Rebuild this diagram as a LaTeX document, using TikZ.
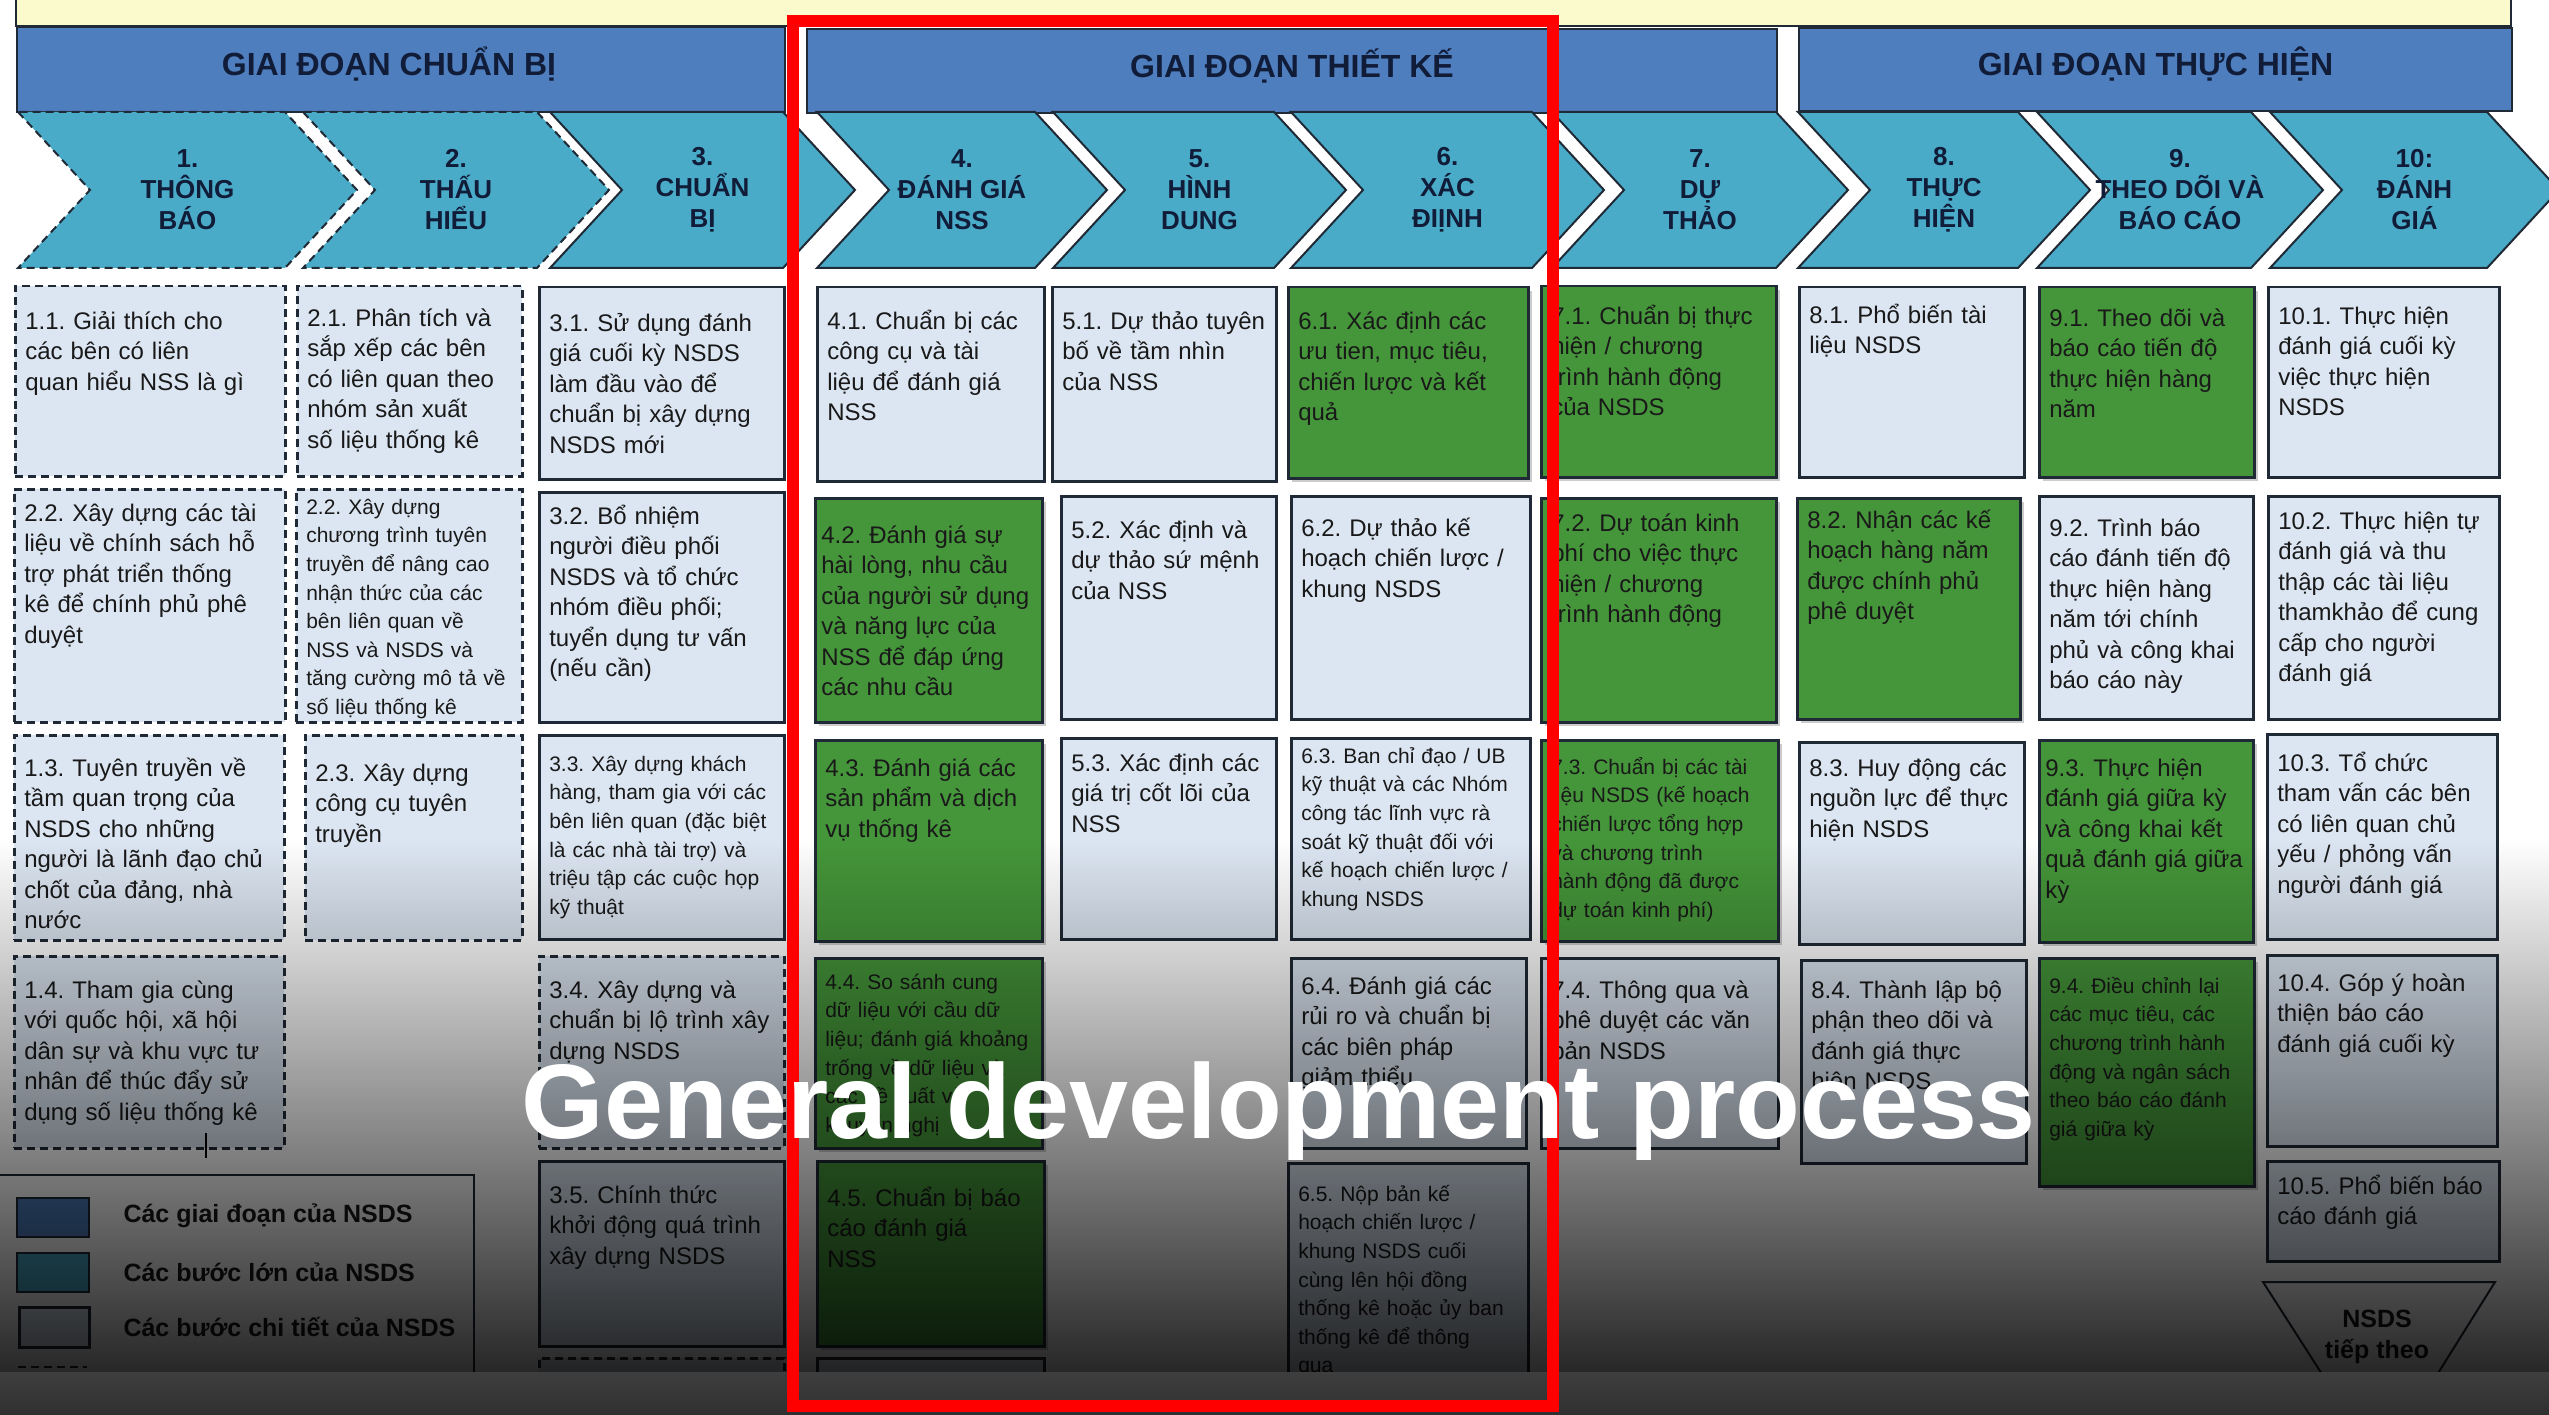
\documentclass[tikz,border=0pt]{standalone}
\usepackage{fontspec}
\setmainfont{Liberation Sans}
\usetikzlibrary{shadows,fadings}
\frenchspacing

\definecolor{sunny}{HTML}{FBFACD}
\definecolor{phaseblue}{HTML}{4E7EBD}
\definecolor{stepteal}{HTML}{4AABC9}
\definecolor{liteblue}{HTML}{DCE6F2}
\definecolor{leafgreen}{HTML}{45963A}
\definecolor{inkline}{HTML}{202A36}
\definecolor{navyink}{HTML}{101C38}
\definecolor{bandgray}{HTML}{3E3E3E}

\newcommand{\cellfont}{\fontsize{24}{30.5}\selectfont}
\newcommand{\cellsmall}{\fontsize{21}{28.6}\selectfont}
\newcommand{\chevfont}{\fontsize{26}{31}\selectfont\bfseries}
\newcommand{\phasefont}{\fontsize{32}{36}\selectfont\bfseries}
\newcommand{\keyfont}{\fontsize{25}{31}\selectfont\bfseries}
\newcommand{\capfont}{\fontsize{106}{110}\selectfont\bfseries}
\newcommand{\cellpad}{10}

\tikzfading[name=fadedark, top color=transparent!100, bottom color=transparent!15]

\tikzset{
  cell/.code n args={3}{%
    \pgfmathsetmacro\cellw{#1-2*\cellpad}%
    \pgfmathsetmacro\cellh{#3-10}%
    \pgfmathsetmacro\celld{#2-#3-10}%
    \edef\cellkeys{\noexpand\pgfkeysalso{anchor=north west, inner xsep=\cellpad pt, inner ysep=10pt,
      align=left, text width=\cellw pt, text height=\cellh pt, text depth=\celld pt}}%
    \cellkeys},
  tight/.code={\def\cellpad{6}},
  broken/.style={dash pattern=on 8pt off 5pt},
  whole/.style={solid},
  lite/.style={fill=liteblue, draw=inkline, line width=2.5pt, font=\cellfont, text=black!90},
  dlite/.style={lite, broken},
  leaf/.style={fill=leafgreen, draw=inkline, line width=2.5pt, font=\cellfont, text=black!90,
    drop shadow={opacity=.4, shadow xshift=4pt, shadow yshift=-4pt}},
  dense/.style={font=\cellsmall},
  phasebar/.style={fill=phaseblue, draw=inkline, line width=2pt, text=navyink, font=\phasefont,
    anchor=north west, text depth=16pt},
  chev/.style={fill=stepteal, draw=inkline, line width=2pt},
  chevtxt/.style={text=navyink, font=\chevfont, align=center},
  keytxt/.style={text=black!90, font=\keyfont, anchor=west},
}

\begin{document}
\begin{tikzpicture}[x=1pt,y=-1pt]
    \useasboundingbox (0,0) rectangle (2549,1415);
    \fill[white] (0,0) rectangle (2549,1415);

    % phases
    \draw[fill=sunny, draw=inkline, line width=2pt] (16,-10) rectangle (2511,26);
    \node[phasebar, minimum width=768, minimum height=85] (ph1) at (16,26) {GIAI ĐOẠN CHUẨN BỊ\hspace*{24pt}};
    \node[phasebar, minimum width=970, minimum height=84] (ph2) at (806,28) {GIAI ĐOẠN THIẾT KẾ};
    \node[phasebar, minimum width=713, minimum height=83] (ph3) at (1798,27) {GIAI ĐOẠN THỰC HIỆN};

    % big steps
    \foreach \n/\a/\b/\ln/\lbl in {1/18/285/broken/1.\\THÔNG\\BÁO, 2/303/537/broken/2.\\THẤU\\HIỂU,
        3/550/783/whole/3.\\CHUẨN\\BỊ, 4/817/1035/whole/4.\\ĐÁNH GIÁ\\NSS, 5/1053/1274/whole/5.\\HÌNH\\DUNG,
        6/1291/1532/whole/6.\\XÁC\\ĐIỊNH, 7/1552/1776/whole/7.\\DỰ\\THẢO, 8/1798/2018/whole/8.\\THỰC\\HIỆN,
        9/2037/2251/whole/9.\\THEO DÕI VÀ\\BÁO CÁO, 10/2270/2487/whole/10:\\ĐÁNH\\GIÁ} {
        \draw[chev, \ln] (\a,112) -- ++(72,78) -- ++(-72,78) -- (\b,268) -- ++(72,-78) -- ++(-72,-78) -- cycle;
        \node[chevtxt] (s\n) at ({(\a+\b)/2+36},190) {\lbl};
    }

    % detailed steps, row 1
    \node[dlite, cell={270}{190}{43}] (c11) at (14,285) {1.1. Giải thích cho\\các bên có liên\\quan hiểu NSS là gì};
    \node[dlite, cell={225}{190}{40}] (c21) at (296,285) {2.1. Phân tích và\\sắp xếp các bên\\có liên quan theo\\nhóm sản xuất\\số liệu thống kê};
    \node[lite, cell={245}{192}{44}] (c31) at (538,286) {3.1. Sử dụng đánh\\giá cuối kỳ NSDS\\làm đầu vào để\\chuẩn bị xây dựng\\NSDS mới};
    \node[lite, cell={227}{194}{42}] (c41) at (816,286) {4.1. Chuẩn bị các\\công cụ và tài\\liệu để đánh giá\\NSS};
    \node[lite, cell={224}{194}{42}] (c51) at (1051,286) {5.1. Dự thảo tuyên\\bố về tầm nhìn\\của NSS};
    \node[leaf, cell={240}{191}{42}] (c61) at (1287,286) {6.1. Xác định các\\ưu tien, mục tiêu,\\chiến lược và kết\\quả};
    \node[leaf, cell={235}{191}{38}] (c71) at (1540,285) {7.1. Chuẩn bị thực\\hiện / chương\\trình hành động\\của NSDS};
    \node[lite, cell={225}{190}{36}] (c81) at (1798,286) {8.1. Phổ biến tài\\liệu NSDS};
    \node[leaf, cell={215}{190}{39}] (c91) at (2038,286) {9.1. Theo dõi và\\báo cáo tiến độ\\thực hiện hàng\\năm};
    \node[lite, cell={231}{190}{37}] (c101) at (2267,286) {10.1. Thực hiện\\đánh giá cuối kỳ\\việc thực hiện\\NSDS};

    % row 2
    \node[dlite, cell={271}{233}{32}] (c12) at (13,488) {2.2. Xây dựng các tài\\liệu về chính sách hỗ\\trợ phát triển thống\\kê để chính phủ phê\\duyệt};
    \node[dlite, dense, cell={226}{233}{25}] (c22) at (295,488) {2.2. Xây dựng\\chương trình tuyên\\truyền để nâng cao\\nhận thức của các\\bên liên quan về\\NSS và NSDS và\\tăng cường mô tả về\\số liệu thống kê};
    \node[lite, cell={245}{230}{32}] (c32) at (538,491) {3.2. Bổ nhiệm\\người điều phối\\NSDS và tổ chức\\nhóm điều phối;\\tuyển dụng tư vấn\\(nếu cần)};
    \node[leaf, tight, cell={227}{224}{45}] (c42) at (814,497) {4.2. Đánh giá sự\\hài lòng, nhu cầu\\của người sử dụng\\và năng lực của\\NSS để đáp ứng\\các nhu cầu};
    \node[lite, cell={215}{223}{42}] (c52) at (1060,495) {5.2. Xác định và\\dự thảo sứ mệnh\\của NSS};
    \node[lite, cell={239}{223}{40}] (c62) at (1290,495) {6.2. Dự thảo kế\\hoạch chiến lược /\\khung NSDS};
    \node[leaf, cell={235}{224}{33}] (c72) at (1540,497) {7.2. Dự toán kinh\\phí cho việc thực\\hiện / chương\\trình hành động};
    \node[leaf, cell={223}{221}{30}] (c82) at (1796,497) {8.2. Nhận các kế\\hoạch hàng năm\\được chính phủ\\phê duyệt};
    \node[lite, cell={214}{223}{40}] (c92) at (2038,495) {9.2. Trình báo\\cáo đánh tiến độ\\thực hiện hàng\\năm tới chính\\phủ và công khai\\báo cáo này};
    \node[lite, cell={231}{223}{33}] (c102) at (2267,495) {10.2. Thực hiện tự\\đánh giá và thu\\thập các tài liệu\\thamkhảo để cung\\cấp cho người\\đánh giá};

    % row 3
    \node[dlite, cell={270}{205}{41}] (c13) at (13,734) {1.3. Tuyên truyền về\\tầm quan trọng của\\NSDS cho những\\người là lãnh đạo chủ\\chốt của đảng, nhà\\nước};
    \node[dlite, cell={217}{205}{46}] (c23) at (304,734) {2.3. Xây dựng\\công cụ tuyên\\truyền};
    \node[lite, dense, cell={245}{204}{36}] (c33) at (538,734) {3.3. Xây dựng khách\\hàng, tham gia với các\\bên liên quan (đặc biệt\\là các nhà tài trợ) và\\triệu tập các cuộc họp\\kỹ thuật};
    \node[leaf, cell={227}{201}{36}] (c43) at (814,739) {4.3. Đánh giá các\\sản phẩm và dịch\\vụ thống kê};
    \node[lite, cell={215}{201}{33}] (c53) at (1060,737) {5.3. Xác định các\\giá trị cốt lõi của\\NSS};
    \node[lite, dense, cell={239}{201}{25}] (c63) at (1290,737) {6.3. Ban chỉ đạo / UB\\kỹ thuật và các Nhóm\\công tác lĩnh vực rà\\soát kỹ thuật đối với\\kế hoạch chiến lược /\\khung NSDS};
    \node[leaf, dense, cell={237}{201}{34}] (c73) at (1540,739) {7.3. Chuẩn bị các tài\\liệu NSDS (kế hoạch\\chiến lược tổng hợp\\và chương trình\\hành động đã được\\dự toán kinh phí)};
    \node[lite, cell={225}{202}{34}] (c83) at (1798,741) {8.3. Huy động các\\nguồn lực để thực\\hiện NSDS};
    \node[leaf, tight, cell={214}{202}{36}] (c93) at (2038,739) {9.3. Thực hiện\\đánh giá giữa kỳ\\và công khai kết\\quả đánh giá giữa\\kỳ};
    \node[lite, cell={230}{205}{37}] (c103) at (2266,733) {10.3. Tổ chức\\tham vấn các bên\\có liên quan chủ\\yếu / phỏng vấn\\người đánh giá};

    % row 4
    \node[dlite, cell={270}{192}{42}] (c14) at (13,955) {1.4. Tham gia cùng\\với quốc hội, xã hội\\dân sự và khu vực tư\\nhân để thúc đẩy sử\\dụng số liệu thống kê};
    \node[dlite, cell={245}{192}{42}] (c34) at (538,955) {3.4. Xây dựng và\\chuẩn bị lộ trình xây\\dựng NSDS};
    \node[leaf, dense, cell={227}{190}{31}] (c44) at (814,957) {4.4. So sánh cung\\dữ liệu với cầu dữ\\liệu; đánh giá khoảng\\trống về dữ liệu và\\các đề xuất và\\khuyến nghị};
    \node[lite, cell={235}{190}{36}] (c64) at (1290,957) {6.4. Đánh giá các\\rủi ro và chuẩn bị\\các biên pháp\\giảm thiểu};
    \node[lite, cell={237}{190}{40}] (c74) at (1540,957) {7.4. Thông qua và\\phê duyệt các văn\\bản NSDS};
    \node[lite, cell={225}{203}{38}] (c84) at (1800,959) {8.4. Thành lập bộ\\phận theo dõi và\\đánh giá thực\\hiện NSDS};
    \node[leaf, dense, cell={215}{228}{35}] (c94) at (2038,957) {9.4. Điều chỉnh lại\\các mục tiêu, các\\chương trình hành\\động và ngân sách\\theo báo cáo đánh\\giá giữa kỳ};
    \node[lite, cell={230}{191}{36}] (c104) at (2266,954) {10.4. Góp ý hoàn\\thiện báo cáo\\đánh giá cuối kỳ};

    % row 5
    \node[lite, cell={245}{185}{42}] (c35) at (538,1160) {3.5. Chính thức\\khởi động quá trình\\xây dựng NSDS};
    \node[leaf, cell={227}{185}{45}] (c45) at (816,1160) {4.5. Chuẩn bị báo\\cáo đánh giá\\NSS};
    \node[lite, dense, cell={240}{260}{38}] (c65) at (1287,1162) {6.5. Nộp bản kế\\hoạch chiến lược /\\khung NSDS cuối\\cùng lên hội đồng\\thống kê hoặc ủy ban\\thống kê để thông\\qua};
    \node[lite, cell={232}{100}{33}] (c105) at (2266,1160) {10.5. Phổ biến báo\\cáo đánh giá};
    \node[dlite, cell={245}{80}{30}] (c36) at (538,1357) {};
    \node[lite, cell={227}{80}{30}] (c46) at (816,1357) {};
    \draw[black, line width=2pt] (206,1133) -- (206,1158);

    % next NSDS
    \draw[inkline, line width=2pt] (2345,1410) -- (2263,1282) -- (2495,1282) -- (2415,1410);
    \node[font=\keyfont, align=center, text=black!90] (nx) at (2377,1337) {NSDS\\tiếp theo};

    % legend
    \draw[draw=inkline, line width=2.5pt, fill=white] (-10,1175) rectangle (474,1440);
    \node[phasebar, text depth=0pt, minimum width=72, minimum height=39] (k1) at (16,1197) {};
    \node[chev, anchor=north west, minimum width=72, minimum height=39] (k2) at (16,1252) {};
    \node[lite, anchor=north west, minimum width=70, minimum height=40] (k3) at (18,1306) {};
    \draw[inkline, line width=2pt, broken] (18,1367) -- (87,1367);
    \node[keytxt] (kt1) at (120,1216) {Các giai đoạn của NSDS};
    \node[keytxt] (kt2) at (120,1272) {Các bước lớn của NSDS};
    \node[keytxt] (kt3) at (120,1327) {Các bước chi tiết của NSDS};
    \node[keytxt] (kt4) at (120,1387) {Các bước lớn và các bước};

    % video overlay
    \fill[black, path fading=fadedark] (-5,840) rectangle (2555,1373);
    \shade[top color=bandgray, bottom color=black!82] (-5,1372) rectangle (2555,1420);
    \draw[red, line width=12pt] (793,21) rectangle (1553,1406);
    \node[text=white, font=\capfont, anchor=base] (cap) at (1279,1138) {General development process};

\end{tikzpicture}
\end{document}
